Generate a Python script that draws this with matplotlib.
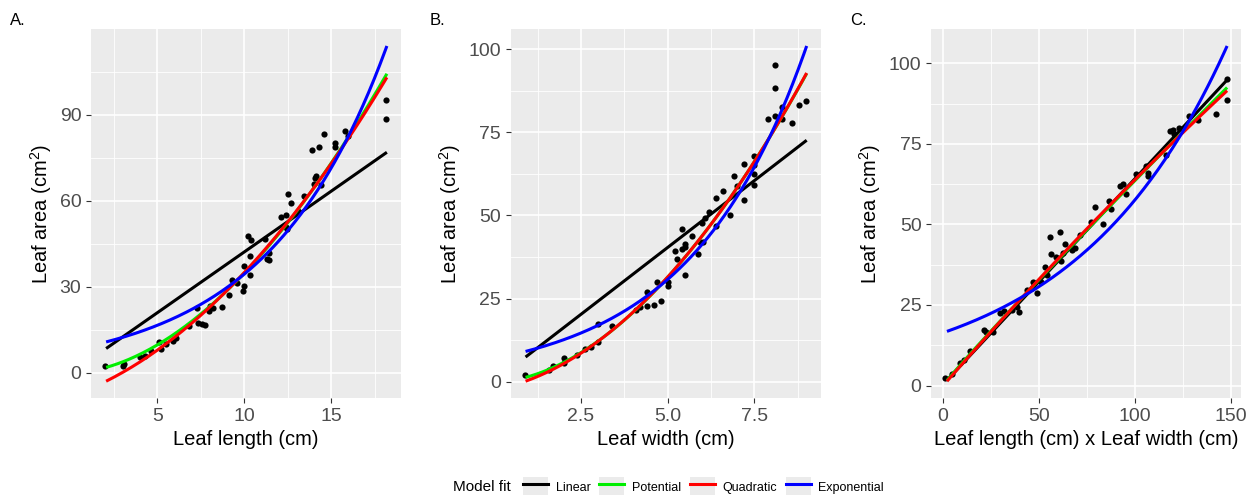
import numpy as np
import matplotlib
matplotlib.use("Agg")
import matplotlib.pyplot as plt
from matplotlib.ticker import MultipleLocator, AutoMinorLocator
from matplotlib.lines import Line2D
from matplotlib.patches import Patch
from matplotlib.legend_handler import HandlerTuple

plt.rcParams['font.family'] = ['Liberation Sans', 'DejaVu Sans']
plt.rcParams['mathtext.fontset'] = 'custom'
plt.rcParams['mathtext.rm'] = 'Liberation Sans'
plt.rcParams['mathtext.it'] = 'Liberation Sans'

# values
# panel A: leaf length (cm) vs leaf area (cm2)
len_a = [2.0, 3.05, 3.1, 4.0, 4.3, 4.64, 5.1, 5.2, 5.5, 5.9, 6.1, 6.8, 7.3, 7.35, 7.55,
         7.75, 7.95, 8.05, 8.2, 8.7, 9.1, 9.3, 9.6, 9.93, 10.0, 10.0, 10.2, 10.4, 10.3,
         10.3, 11.2, 11.3, 11.4, 11.4, 12.1, 12.4, 12.5, 12.7, 12.45, 12.4, 13.1, 13.4,
         13.9, 14.05, 14.1, 14.0, 14.3, 14.4, 14.6, 15.2, 15.2, 15.8, 15.95, 18.15, 18.15]
area_a = [2.4, 2.3, 3.2, 5.4, 5.9, 7.5, 10.6, 8.2, 10.1, 11.0, 12.3, 16.5, 22.5, 17.5, 16.9,
          16.6, 21.5, 23.3, 22.7, 23.1, 27.1, 32.3, 31.5, 28.7, 30.2, 37.3, 47.6, 46.2, 40.6,
          34.2, 46.8, 39.7, 41.8, 39.2, 54.4, 55.1, 62.3, 59.2, 50.0, 51.0, 56.5, 61.7,
          77.8, 67.9, 68.5, 66.0, 78.9, 65.6, 83.4, 80.0, 78.9, 84.3, 82.6, 95.1, 88.4]

# panel B: leaf width (cm) vs leaf area (cm2)
wid_b = [0.88, 1.59, 1.69, 2.0, 2.0, 2.39, 2.62, 2.8, 3.0, 2.99, 3.39, 4.1, 4.2, 4.4, 4.4,
         4.6, 4.68, 4.8, 5.0, 5.0, 5.2, 5.26, 5.4, 5.4, 5.5, 5.5, 5.5, 5.7, 5.88, 5.93,
         6.0, 6.03, 6.07, 6.19, 6.39, 6.39, 6.6, 6.81, 6.9, 7.01, 7.19, 7.19, 7.49, 7.49,
         7.49, 7.49, 7.9, 8.1, 8.1, 8.1, 8.3, 8.3, 8.59, 8.78, 8.99]
area_b = [2.2, 3.7, 4.7, 5.7, 7.2, 8.0, 9.9, 10.4, 12.1, 17.4, 16.9, 21.6, 22.6, 27.0, 22.9,
          23.1, 30.0, 24.3, 28.8, 30.0, 39.3, 37.0, 45.9, 40.0, 41.5, 40.5, 32.2, 43.7, 38.5,
          42.0, 47.7, 42.1, 49.2, 50.9, 55.2, 46.9, 57.2, 50.0, 61.8, 58.8, 65.6, 54.6,
          68.0, 65.3, 62.5, 59.1, 78.9, 95.1, 88.3, 80.0, 79.0, 82.5, 77.9, 83.3, 84.4]

# panel C: leaf length x leaf width (cm2) vs leaf area (cm2)
prod_c = [1.2, 4.7, 9.0, 10.7, 13.8, 21.6, 22.4, 25.9, 29.7, 31.8, 35.7, 38.3, 39.7, 43.5,
          46.1, 47.0, 49.0, 50.8, 53.0, 53.9, 55.9, 56.1, 60.8, 59.0, 61.3, 62.5, 63.7, 67.1,
          68.5, 71.1, 76.8, 79.2, 83.5, 86.3, 87.2, 92.2, 93.6, 95.3, 100.5, 105.6, 106.5,
          106.8, 116.0, 118.2, 119.5, 120.3, 122.9, 128.1, 132.7, 141.9, 147.6, 147.6]
area_c = [2.4, 3.7, 7.0, 8.0, 10.6, 17.3, 16.5, 16.5, 22.5, 23.0, 23.5, 24.5, 22.7, 29.7,
          30.2, 32.0, 28.7, 32.0, 36.9, 34.3, 46.2, 40.7, 47.7, 39.8, 38.5, 41.0, 43.8, 42.1,
          42.6, 46.7, 50.8, 55.3, 50.1, 57.2, 54.7, 61.9, 62.5, 59.4, 65.7, 68.1, 65.1,
          65.8, 71.4, 78.9, 79.2, 78.1, 80.0, 83.5, 82.5, 84.3, 95.2, 88.5]

# model coefficients
# linear: a + b*x, potential: a*x^b, quadratic: a + b*x + c*x^2, exponential: a*exp(b*x)
lin_coef = [(-0.23, 4.24), (0.24, 8.03), (0.33, 0.639)]
pot_coef = [(0.51, 1.834), (1.64, 1.835), (0.783, 0.955)]
quad_coef = [(-8.22, 2.134, 0.2188), (-2.42, 2.066, 0.9437), (-0.07, 0.683, -0.000432)]
exp_coef = [(7.99, 0.1461), (7.01, 0.296), (16.37, 0.01259)]
curve_range = [(2.06, 18.19), (0.9, 9.01), (2.07, 147.9)]

panels = [
    ("A.", len_a, area_a, "Leaf length (cm)", 5, 30),
    ("B.", wid_b, area_b, "Leaf width (cm)", 2.5, 25),
    ("C.", prod_c, area_c, "Leaf length (cm) x Leaf width (cm)", 50, 25),
]

model_names = ["Linear", "Potential", "Quadratic", "Exponential"]
model_colors = ["#000000", "#00EE00", "#FF0000", "#0000FF"]
panel_left = [0.0725, 0.407, 0.742]


def model_curves(i, xs):
    a1, b1 = lin_coef[i]
    a2, b2 = pot_coef[i]
    a3, b3, c3 = quad_coef[i]
    a4, b4 = exp_coef[i]
    return [a1 + b1 * xs, a2 * xs ** b2, a3 + b3 * xs + c3 * xs ** 2, a4 * np.exp(b4 * xs)]


fig = plt.figure(figsize=(12.55, 4.95), dpi=100)

for i, (tag, xv, yv, xlab, xstep, ystep) in enumerate(panels):
    ax = fig.add_axes([panel_left[i], 0.196, 0.247, 0.745])
    ax.set_facecolor("#EBEBEB")
    for s in ax.spines.values():
        s.set_visible(False)
    ax.scatter(xv, yv, s=20, color="black", zorder=3, linewidths=0)
    xs = np.linspace(*curve_range[i], 200)
    for curve, col in zip(model_curves(i, xs), model_colors):
        ax.plot(xs, curve, color=col, lw=2.2, zorder=4, solid_capstyle="butt")
    ax.xaxis.set_major_locator(MultipleLocator(xstep))
    ax.yaxis.set_major_locator(MultipleLocator(ystep))
    ax.xaxis.set_minor_locator(AutoMinorLocator(2))
    ax.yaxis.set_minor_locator(AutoMinorLocator(2))
    ax.grid(which="major", color="white", lw=1.2)
    ax.grid(which="minor", color="white", lw=0.6)
    ax.set_axisbelow(True)
    ax.tick_params(which="major", length=3.5, width=0.8, color="#333333",
                   labelcolor="#4D4D4D", labelsize=14, pad=3.5)
    ax.tick_params(which="minor", length=0)
    ax.set_xlabel(xlab, fontsize=14.5, labelpad=4)
    ax.set_ylabel("Leaf area (cm$^2$)", fontsize=14.5, labelpad=4)
    fig.text(panel_left[i] - 0.0645, 0.958, tag, fontsize=12, va="center", ha="left")

handles = [(Patch(facecolor="#EBEBEB", edgecolor="none"), Line2D([], [], color=c, lw=2.2))
           for c in model_colors]
fig.text(0.361, 0.016, "Model fit", fontsize=11, va="center", ha="left")
fig.legend(handles, model_names, handler_map={tuple: HandlerTuple(ndivide=1)},
           loc="center left", bbox_to_anchor=(0.412, 0.016), ncol=4, frameon=False,
           fontsize=9, handlelength=2.0, handleheight=2.0, handletextpad=0.6,
           columnspacing=0.7, borderpad=0.0)

fig.savefig("out.png", dpi=100)
